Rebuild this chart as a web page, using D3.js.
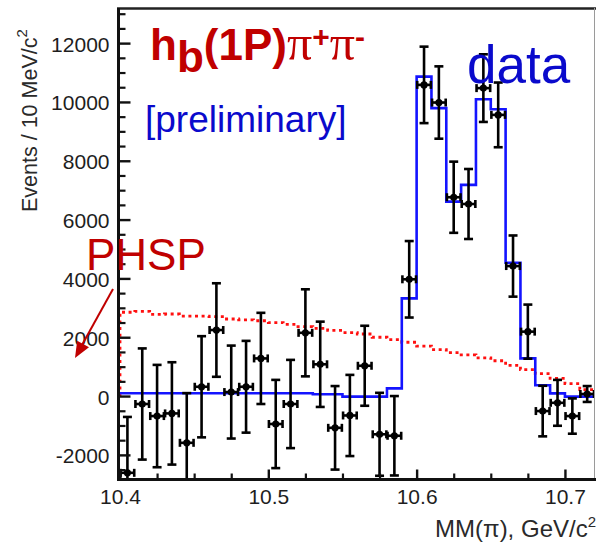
<!DOCTYPE html>
<html>
<head>
<meta charset="utf-8">
<script src="https://cdn.jsdelivr.net/npm/d3@7"></script>
<style>
  html, body { margin: 0; padding: 0; background: #fff; }
  svg { display: block; }
</style>
</head>
<body>
<svg id="chart" width="596" height="544"></svg>
<script>
// Missing-mass bins (GeV/c^2), 10 MeV wide, given by their centres
const binCenters = [
  10.405, 10.415, 10.425, 10.435, 10.445, 10.455, 10.465, 10.475,
  10.485, 10.495, 10.505, 10.515, 10.525, 10.535, 10.545, 10.555,
  10.565, 10.575, 10.585, 10.595, 10.605, 10.615, 10.625, 10.635,
  10.645, 10.655, 10.665, 10.675, 10.685, 10.695, 10.705, 10.715
];
const binWidth = 0.01;

// Signal yield per bin with its statistical error
const dataEvents = [
  -2610, -270, -680, -590, -1590, 316, 2245, 136,
  316, 1280, -950, -270, 2150, 1080, -1080, -660,
  1030, -1300, -1350, 3970, 10580, 9980, 6760, 6530,
  10470, 9560, 4420, 2190, -510, -230, -680, 70
];
const dataErrors = [
  1900, 1890, 1740, 1740, 1690, 1720, 1590, 1580,
  1560, 1550, 1500, 1500, 1480, 1450, 1420, 1380,
  1360, 1410, 1350, 1300, 1300, 1230, 1210, 1190,
  1150, 1100, 1040, 920, 860, 780, 600, 270
];

// Fit result (two Zb states) per bin
const fitEvents = [
  95, 95, 95, 95, 95, 95, 95, 95,
  95, 95, 95, 95, 95, 60, 60, -20,
  -20, -20, 260, 3320, 10860, 9790, 6610, 7180,
  10090, 9750, 4530, 1280, 370, 90, -20, -20
];

// Phase-space expectation per bin
const phspEvents = [
  2850, 2880, 2780, 2790, 2720, 2720, 2700, 2620,
  2590, 2560, 2500, 2440, 2360, 2300, 2230, 2160,
  2110, 2000, 1920, 1830, 1700, 1580, 1480, 1400,
  1300, 1200, 1040, 900, 760, 600, 420, 220
];

// Axis ticks
const xMajorTicks = [10.4, 10.5, 10.6, 10.7];
const xTickLabels = ["10.4", "10.5", "10.6", "10.7"];
const xMinorTicks = [10.425, 10.45, 10.475, 10.525, 10.55, 10.575, 10.625, 10.65, 10.675];
const yMajorTicks = [-2000, 0, 2000, 4000, 6000, 8000, 10000, 12000];
const yTickLabels = ["-2000", "0", "2000", "4000", "6000", "8000", "10000", "12000"];
const yMinorTicks = [-2500, -1500, -1000, -500, 500, 1000, 1500, 2500, 3000, 3500, 4500, 5000, 5500,
  6500, 7000, 7500, 8500, 9000, 9500, 10500, 11000, 11500, 12500, 13000];

const FONT = "'Liberation Sans', Arial, Helvetica, sans-serif";
const SERIF = "'Liberation Serif', 'DejaVu Serif', serif";
const svg = d3.select("#chart");

const x = d3.scaleLinear().domain([10.4, 10.72]).range([120, 594.6]);
const y = d3.scaleLinear().domain([-2820, 13160]).range([479, 9]);

// clip region for the plot frame
svg.append("defs").append("clipPath").attr("id", "plotClip")
  .append("rect").attr("x", 119).attr("y", 9).attr("width", 476).attr("height", 470);

const plot = svg.append("g").attr("clip-path", "url(#plotClip)");

// histogram outline built from bin edges
function stepPoints(values, startFromZero) {
  const pts = [];
  if (startFromZero) pts.push([binCenters[0] - binWidth / 2, 0]);
  values.forEach((v, i) => {
    pts.push([binCenters[i] - binWidth / 2, v]);
    pts.push([binCenters[i] + binWidth / 2, v]);
  });
  return pts;
}
const stepLine = d3.line().x(d => x(d[0])).y(d => y(d[1]));

// phase-space, red dotted
plot.append("path")
  .attr("d", stepLine(stepPoints(phspEvents, true)))
  .attr("fill", "none")
  .attr("stroke", "#ff1010")
  .attr("stroke-width", 2.8)
  .attr("stroke-dasharray", "3,3.6");

// fit, blue solid
plot.append("path")
  .attr("d", stepLine(stepPoints(fitEvents, false)))
  .attr("fill", "none")
  .attr("stroke", "#1414ff")
  .attr("stroke-width", 2.6)
  .attr("stroke-linejoin", "miter");

// data points with error bars
const pts = plot.append("g").attr("stroke", "#000").attr("stroke-width", 2.6).attr("fill", "#000");
binCenters.forEach((c, i) => {
  const cx = x(c);
  const cy = y(dataEvents[i]);
  const yTop = y(dataEvents[i] + dataErrors[i]);
  const yBot = y(dataEvents[i] - dataErrors[i]);
  const hx0 = x(c - binWidth / 2) + 0.6;
  const hx1 = x(c + binWidth / 2) - 0.6;
  const g = pts.append("g");
  g.append("line").attr("x1", cx).attr("x2", cx).attr("y1", yTop).attr("y2", yBot);
  g.append("line").attr("x1", cx - 4.5).attr("x2", cx + 4.5).attr("y1", yTop).attr("y2", yTop);
  g.append("line").attr("x1", cx - 4.5).attr("x2", cx + 4.5).attr("y1", yBot).attr("y2", yBot);
  g.append("line").attr("x1", hx0).attr("x2", hx1).attr("y1", cy).attr("y2", cy);
  g.append("line").attr("x1", hx0).attr("x2", hx0).attr("y1", cy - 4).attr("y2", cy + 4);
  g.append("line").attr("x1", hx1).attr("x2", hx1).attr("y1", cy - 4).attr("y2", cy + 4);
  g.append("circle").attr("cx", cx).attr("cy", cy).attr("r", 3.6).attr("stroke", "none");
});

// frame
const frame = svg.append("g");
frame.append("line").attr("x1", 117).attr("x2", 596).attr("y1", 8.5).attr("y2", 8.5)
  .attr("stroke", "#222").attr("stroke-width", 2.5);
frame.append("line").attr("x1", 594.5).attr("x2", 594.5).attr("y1", 8).attr("y2", 480)
  .attr("stroke", "#9a9a9a").attr("stroke-width", 1);
frame.append("line").attr("x1", 118.5).attr("x2", 118.5).attr("y1", 8).attr("y2", 481)
  .attr("stroke", "#111").attr("stroke-width", 3);
frame.append("line").attr("x1", 117).attr("x2", 596).attr("y1", 479.5).attr("y2", 479.5)
  .attr("stroke", "#111").attr("stroke-width", 3);

// tick marks pointing into the frame
function styleTicks(g, w) {
  g.select(".domain").remove();
  g.selectAll(".tick line").attr("stroke", "#111").attr("stroke-width", w);
}
svg.append("g").attr("transform", "translate(118.5,0)")
  .call(d3.axisRight(y).tickValues(yMajorTicks).tickSize(12).tickFormat(""))
  .call(g => styleTicks(g, 2.4));
svg.append("g").attr("transform", "translate(118.5,0)")
  .call(d3.axisRight(y).tickValues(yMinorTicks).tickSize(7).tickFormat(""))
  .call(g => styleTicks(g, 2.2));
svg.append("g").attr("transform", "translate(0,479.5)")
  .call(d3.axisTop(x).tickValues(xMajorTicks).tickSize(10).tickFormat(""))
  .call(g => styleTicks(g, 2.4));
svg.append("g").attr("transform", "translate(0,479.5)")
  .call(d3.axisTop(x).tickValues(xMinorTicks).tickSize(6).tickFormat(""))
  .call(g => styleTicks(g, 2.2));

// tick labels
svg.append("g").attr("transform", "translate(118.5,0)")
  .call(d3.axisLeft(y).tickValues(yMajorTicks).tickSize(0).tickPadding(9)
    .tickFormat((d, i) => yTickLabels[i]))
  .call(g => {
    g.select(".domain").remove();
    g.selectAll("text").attr("font-family", FONT).attr("font-size", 21).attr("fill", "#1e1e1e")
      .attr("dy", "0.38em");
  });
svg.append("g").attr("transform", "translate(0,479)")
  .call(d3.axisBottom(x).tickValues(xMajorTicks).tickSize(0).tickPadding(10)
    .tickFormat((d, i) => xTickLabels[i]))
  .call(g => {
    g.select(".domain").remove();
    g.selectAll("text").attr("font-family", FONT).attr("font-size", 21).attr("fill", "#1e1e1e");
  });

// axis titles
const xTitle = svg.append("text")
  .attr("x", 596).attr("y", 537).attr("text-anchor", "end")
  .attr("font-family", FONT).attr("font-size", 24).attr("fill", "#2a2a2a");
xTitle.append("tspan").text("MM(\u03C0), GeV/c");
xTitle.append("tspan").attr("dy", -10).attr("font-size", 15).text("2");

const yTitle = svg.append("text")
  .attr("transform", "translate(37,212) rotate(-90)")
  .attr("text-anchor", "start")
  .attr("font-family", FONT).attr("font-size", 21.5).attr("fill", "#2a2a2a");
yTitle.append("tspan").text("Events / 10 MeV/c");
yTitle.append("tspan").attr("dy", -10).attr("font-size", 15).text("2");

// annotations
const DARKRED = "#c00000";
const BLUE = "#0a0acc";
const title = svg.append("text")
  .attr("x", 150).attr("y", 60)
  .attr("font-family", FONT).attr("font-weight", "bold").attr("font-size", 44).attr("fill", DARKRED);
title.append("tspan").text("h");
title.append("tspan").attr("dy", 12).text("b");
title.append("tspan").attr("dy", -12).text("(1P)");
title.append("tspan").attr("font-family", SERIF).attr("font-size", 50)
  .attr("font-weight", "normal").text("\u03C0");
title.append("tspan").attr("dy", -13).attr("font-size", 30).text("+");
title.append("tspan").attr("dy", 13).attr("font-family", SERIF).attr("font-size", 50)
  .attr("font-weight", "normal").text("\u03C0");
title.append("tspan").attr("dy", -13).attr("font-size", 30).text("-");

svg.append("text").attr("x", 145).attr("y", 132)
  .attr("font-family", FONT).attr("font-size", 37).attr("fill", BLUE).text("[preliminary]");
svg.append("text").attr("x", 467).attr("y", 83)
  .attr("font-family", FONT).attr("font-size", 53).attr("fill", BLUE).text("data");
svg.append("text").attr("x", 86).attr("y", 269.5)
  .attr("font-family", FONT).attr("font-size", 44).attr("fill", DARKRED).text("PHSP");

// arrow pointing from the label to the dotted curve
svg.append("line").attr("x1", 113).attr("y1", 289).attr("x2", 82).attr("y2", 345)
  .attr("stroke", DARKRED).attr("stroke-width", 2);
svg.append("polygon")
  .attr("points", "75,358 77.2,340.8 89,347.3")
  .attr("fill", DARKRED);
</script>
</body>
</html>
